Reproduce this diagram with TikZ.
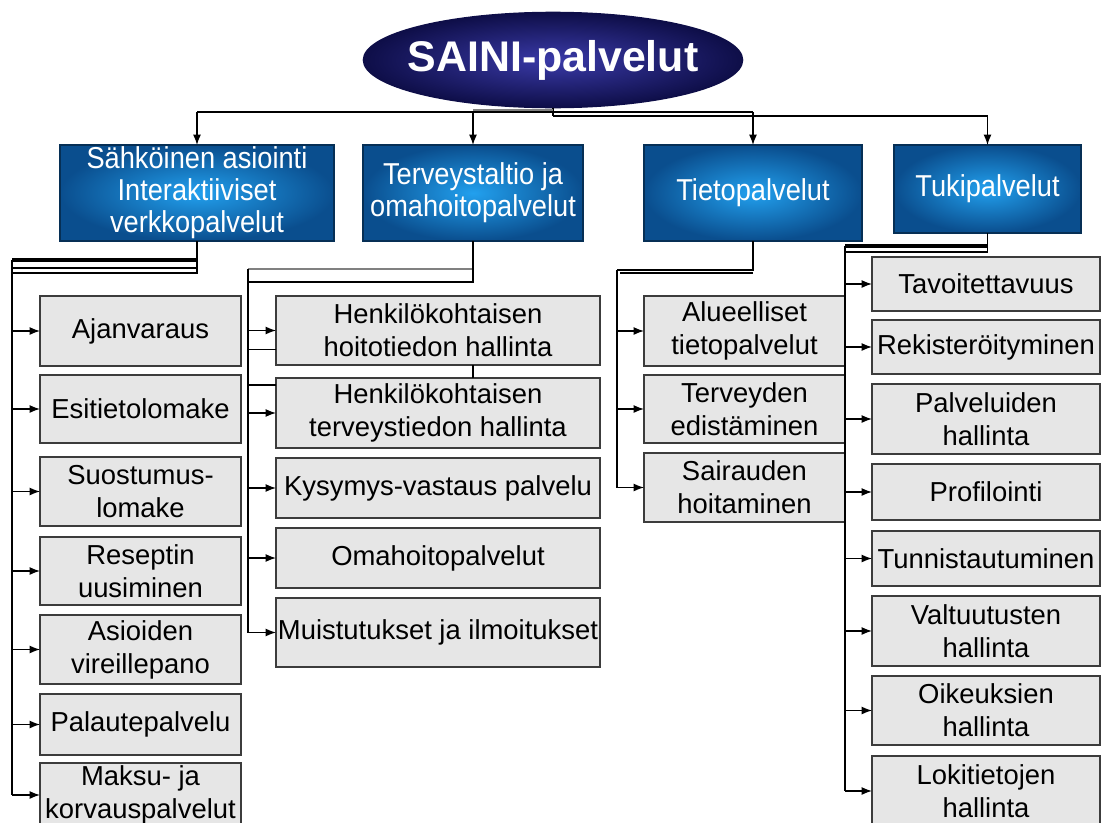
\documentclass[tikz,border=0pt]{standalone}
\usepackage{fontspec}
\setmainfont{Liberation Sans}
\newfontfamily\headfont{Liberation Sans}[FakeStretch=0.9]
\usepackage{tikz}
\usetikzlibrary{shapes}
\usetikzlibrary{positioning}
\usetikzlibrary{calc}
\usetikzlibrary{arrows.meta}
\definecolor{navyout}{HTML}{0E0E48}
\definecolor{navyin}{HTML}{3A3AA8}
\definecolor{blueout}{HTML}{0A4E8E}
\definecolor{bluein}{HTML}{22A0EE}
\definecolor{boxgray}{HTML}{E6E6E6}
\definecolor{edgegray}{HTML}{3C3C3C}
\tikzset{
    otsikko/.style={rectangle, draw=blueout!60!black, inner color=bluein, outer color=blueout, text=white, font=\headfont\fontsize{21.5}{22.7}\selectfont, align=center, inner sep=0pt, outer sep=0pt},
    palvelu/.style={rectangle, draw=edgegray, line width=0.8pt, fill=boxgray, font=\fontsize{19.5}{23.4}\selectfont, align=center, inner sep=0pt, outer sep=0pt},
    sar1/.style={palvelu, minimum width=5.025cm},
    sar2/.style={palvelu, minimum width=8.1cm},
    sar3/.style={palvelu, minimum width=5.025cm},
    sar4/.style={palvelu, minimum width=5.7cm},
    nuoli/.style={-{Latex[length=2.6mm,width=2mm]}},
}

\begin{document}
\begin{tikzpicture}[x=0.025cm, y=-0.025cm, line width=0.9pt]
        \useasboundingbox (0,0) rectangle (1101,823);
        \clip (0,0) rectangle (1101,823);
        \node[ellipse, draw=navyout, inner color=navyin, outer color=navyout, inner xsep=-8pt, inner ysep=9.75pt, outer sep=0pt, text=white, font=\bfseries\fontsize{30.5}{32}\selectfont] (saini) at (553,60) {SAINI-palvelut};

        \node[otsikko, minimum width=6.85cm, minimum height=2.4cm] (asiointi) at (197,193) {Sähköinen asiointi\\Interaktiiviset\\verkkopalvelut};
        \node[otsikko, minimum width=5.5cm, minimum height=2.4cm] (taltio) at (473,193) {Terveystaltio ja\\omahoitopalvelut};
        \node[otsikko, minimum width=5.45cm, minimum height=2.4cm] (tieto) at (753,193) {Tietopalvelut};
        \node[otsikko, minimum width=4.675cm, minimum height=2.2cm] (tuki) at (987.5,189) {Tukipalvelut};

        \node[sar1, minimum height=1.75cm] (ajanvaraus) at (140.5,331) {Ajanvaraus};
        \node[sar1, minimum height=1.7cm] (esitieto) at (140.5,409) {Esitietolomake};
        \node[sar1, minimum height=1.725cm] (suostumus) at (140.5,491.5) {Suostumus-\\lomake};
        \node[sar1, minimum height=1.7cm] (resepti) at (140.5,571) {Reseptin\\uusiminen};
        \node[sar1, minimum height=1.725cm] (vireille) at (140.5,649.5) {Asioiden\\vireillepano};
        \node[sar1, minimum height=1.525cm] (palaute) at (140.5,724.5) {Palautepalvelu};
        \node[sar1, minimum height=1.6cm] (maksu) at (140.5,795) {Maksu- ja\\korvauspalvelut};

        \node[sar2, minimum height=1.725cm] (hoitotieto) at (438,330.5) {Henkilökohtaisen\\hoitotiedon hallinta};
        \node[sar2, minimum height=1.75cm] (terveystieto) at (438,413) {Henkilökohtaisen\\terveystiedon hallinta};
        \node[sar2, minimum height=1.5cm] (kysymys) at (438,488) {Kysymys-vastaus palvelu};
        \node[sar2, minimum height=1.5cm] (omahoito) at (438,558) {Omahoitopalvelut};
        \node[sar2, minimum height=1.725cm] (muistutus) at (438,632.5) {Muistutukset ja ilmoitukset};

        \node[sar3, minimum height=1.75cm] (alueelliset) at (744.5,331) {Alueelliset\\tietopalvelut};
        \node[sar3, minimum height=1.7cm] (edistaminen) at (744.5,409) {Terveyden\\edistäminen};
        \node[sar3, minimum height=1.725cm] (sairaus) at (744.5,487.5) {Sairauden\\hoitaminen};

        \node[sar4, minimum height=1.35cm] (tavoitettavuus) at (986,284) {Tavoitettavuus};
        \node[sar4, minimum height=1.35cm] (rekisterointi) at (986,347) {Rekisteröityminen};
        \node[sar4, minimum height=1.75cm] (hallinta) at (986,419) {Palveluiden\\hallinta};
        \node[sar4, minimum height=1.4cm] (profilointi) at (986,492) {Profilointi};
        \node[sar4, minimum height=1.375cm] (tunnistus) at (986,558.5) {Tunnistautuminen};
        \node[sar4, minimum height=1.75cm] (valtuutus) at (986,631) {Valtuutusten\\hallinta};
        \node[sar4, minimum height=1.725cm] (oikeudet) at (986,710.5) {Oikeuksien\\hallinta};
        \node[sar4, minimum height=1.75cm] (lokit) at (986,791) {Lokitietojen\\hallinta};

        \coordinate (r1) at (0,112);
        \coordinate (r2) at (0,116);
        \draw[] (saini.south) -- (saini.south |- r2);
        \draw[gray, line width=1.8pt] ([yshift=0.05cm]taltio.north |- r1) -- ([yshift=0.05cm]saini.south |- r1);
        \draw[] (asiointi.north |- r1) -- (tieto.north |- r1);
        \draw[] (saini.south |- r2) -- (tuki.north |- r2);
        \foreach \h in {asiointi,taltio,tieto}
            \draw[nuoli] (\h.north |- r1) -- (\h.north);
        \draw[nuoli] (tuki.north |- r2) -- (tuki.north);

        \coordinate (v1) at (12,260);
        \coordinate (v1b) at (12,268);
        \draw[line width=2.5pt] (v1) -- (v1 -| asiointi.south);
        \draw[] (v1b) -- (v1b -| asiointi.south);
        \draw[] (asiointi.south) |- (12,273);
        \draw[] (v1) -- (v1 |- maksu.west);
        \foreach \n in {ajanvaraus,esitieto,suostumus,resepti,vireille,palaute,maksu}
            \draw[nuoli] (v1 |- \n.west) -- (\n.west);

        \coordinate (v2) at (248,269);
        \coordinate (v2b) at (248,282);
        \draw[gray, line width=2pt] (v2) -- (v2 -| taltio.south);
        \draw[] (taltio.south) |- (v2b);
        \draw[] (taltio.south |- hoitotieto.south) -- (taltio.south |- terveystieto.north);
        \draw[] (v2) -- (v2 |- muistutus.west);
        \foreach \n in {hoitotieto,terveystieto,kysymys,omahoito,muistutus}
            \draw[nuoli] (v2 |- \n.west) -- (\n.west);
        \draw[] (v2 |- hoitotieto.west) ++(0,19) -- ++(28,0);
        \draw[] (v2 |- terveystieto.west) ++(0,-28) -- ++(28,0);

        \coordinate (v3) at (617,270);
        \coordinate (v3b) at (620,273);
        \draw[] (tieto.south) |- (v3);
        \draw[] (v3b) -- (v3b -| tieto.south);
        \draw[] (v3) -- (v3 |- sairaus.west);
        \foreach \n in {alueelliset,edistaminen,sairaus}
            \draw[nuoli] (v3 |- \n.west) -- (\n.west);

        \coordinate (v4) at (845,246);
        \draw[line width=2.5pt] (v4) -- (v4 -| tuki.south);
        \draw[] (tuki.south) |- (845,252);
        \draw[] (v4) -- (v4 |- lokit.west);
        \foreach \n in {tavoitettavuus,rekisterointi,hallinta,profilointi,tunnistus,valtuutus,oikeudet,lokit}
            \draw[nuoli] (v4 |- \n.west) -- (\n.west);
\end{tikzpicture}
\end{document}
